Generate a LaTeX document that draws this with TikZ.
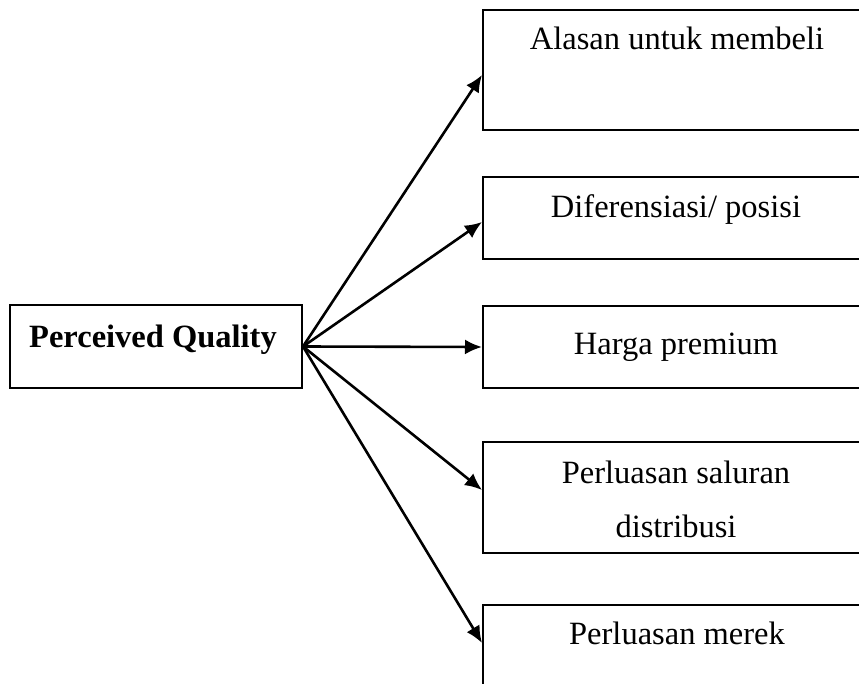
\documentclass[tikz,border=0pt]{standalone}
\usepackage{fontspec}
\setmainfont{Liberation Serif}
\usetikzlibrary{arrows.meta}
\begin{document}
\begin{tikzpicture}[x=1pt,y=-1pt,
  box/.style={draw=black,line width=2pt,rectangle,inner sep=0pt},
  label/.style={anchor=base,inner sep=0pt,font=\fontsize{32.5}{40}\selectfont},
  arr/.style={line width=2.6pt,-{Latex[length=17pt,width=15pt]}}]
\useasboundingbox (0,0) rectangle (859,684);
\clip (0,0) rectangle (859,684);
\fill[white] (0,0) rectangle (859,684);

% source box
\node[box,minimum width=292pt,minimum height=83pt] (pq) at (156,346.5) {};
\node[label,font=\fontsize{32.5}{40}\selectfont\bfseries] (tpq) at (153,348) {Perceived Quality};

% target boxes (right edges run past the page)
\node[box,minimum width=386pt,minimum height=120pt] (b1) at (676,70) {};
\node[box,minimum width=386pt,minimum height=82pt] (b2) at (676,218) {};
\node[box,minimum width=386pt,minimum height=82pt] (b3) at (676,347) {};
\node[box,minimum width=386pt,minimum height=111pt] (b4) at (676,497.5) {};
\node[box,minimum width=386pt,minimum height=100pt] (b5) at (676,655) {};

\node[label] (t1) at (677,50) {Alasan untuk membeli};
\node[label] (t2) at (676,218) {Diferensiasi/ posisi};
\node[label] (t3) at (676,355) {Harga premium};
\node[label] (t4a) at (676,483) {Perluasan saluran};
\node[label] (t4b) at (676,537) {distribusi};
\node[label] (t5) at (677,644) {Perluasan merek};

% connectors
\draw[arr] (pq.east) -- ([yshift=-5pt]b1.west);
\draw[arr] (pq.east) -- ([yshift=-4pt]b2.west);
\draw[arr] (pq.east) -- (b3.west);
\draw[arr] (pq.east) -- ([yshift=7.5pt]b4.west);
\draw[arr] (pq.east) -- ([yshift=12pt]b5.west);
\end{tikzpicture}
\end{document}
